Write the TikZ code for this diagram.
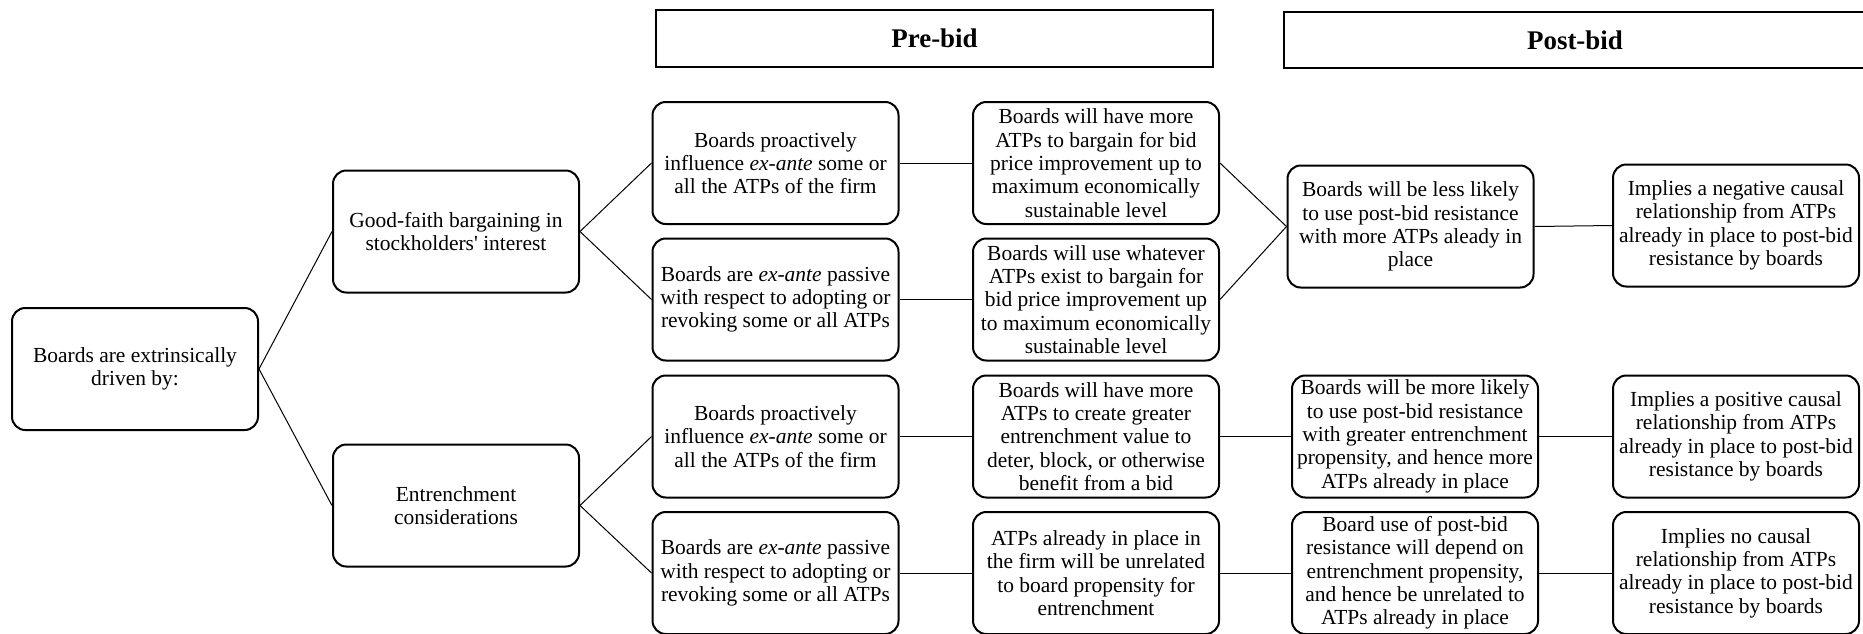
\documentclass[tikz,border=0pt]{standalone}
\usepackage{fontspec}
\setmainfont{Liberation Serif}
\usetikzlibrary{positioning}

\tikzset{
  boardbox/.style={draw, line width=1.5pt, rounded corners=10pt, align=center, inner sep=1pt,
    minimum width=184.5pt, minimum height=91.5pt, font=\fontsize{16.1}{17.5}\selectfont},
  phasebox/.style={draw, line width=1.3pt, align=center, inner sep=1pt,
    minimum height=42.5pt, font=\fontsize{20.2}{22}\selectfont\bfseries},
  link/.style={line width=0.75pt}
}

\begin{document}
\begin{tikzpicture}[x=0.75pt,y=0.75pt,yscale=-1,xscale=1]
\useasboundingbox (0,0) rectangle (1863,633);

% Text Node
\node (pre) at (934.5,38.5) [phasebox, minimum width=417.75pt] {Pre-bid};
% Text Node
\node (post) at (1575,40) [phasebox, minimum width=436.5pt] {Post-bid};

% Text Node
\node (root) at (135,369) [boardbox] {Boards are extrinsically\\driven by:};
% Text Node
\node (faith) at (456,231.5) [boardbox] {Good-faith bargaining in\\stockholders\textquotesingle{} interest};
% Text Node
\node (entr) at (456,505.5) [boardbox] {Entrenchment\\considerations};

% Text Node
\node (faithpro) at (775.5,163) [boardbox] {Boards proactively\\influence \textit{ex-ante} some or\\all the ATPs of the firm};
% Text Node
\node (faithpas) at (775.5,299.5) [boardbox] {Boards are \textit{ex-ante} passive\\with respect to adopting or\\revoking some or all ATPs};
% Text Node
\node (entrpro) at (775.5,436.5) [boardbox] {Boards proactively\\influence \textit{ex-ante} some or\\all the ATPs of the firm};
% Text Node
\node (entrpas) at (775.5,573) [boardbox] {Boards are \textit{ex-ante} passive\\with respect to adopting or\\revoking some or all ATPs};

% Text Node
\node (bargmore) at (1096,163) [boardbox] {Boards will have more\\ATPs to bargain for bid\\price improvement up to\\maximum economically\\sustainable level};
% Text Node
\node (barguse) at (1096,299.5) [boardbox] {Boards will use whatever\\ATPs exist to bargain for\\bid price improvement up\\to maximum economically\\sustainable level};
% Text Node
\node (entrmore) at (1096,436.5) [boardbox] {Boards will have more\\ATPs to create greater\\entrenchment value to\\deter, block, or otherwise\\benefit from a bid};
% Text Node
\node (entrnone) at (1096,573) [boardbox] {ATPs already in place in\\the firm will be unrelated\\to board propensity for\\entrenchment};

% Text Node
\node (resless) at (1410.5,226.5) [boardbox] {Boards will be less likely\\to use post-bid resistance\\with more ATPs aleady in\\place};
% Text Node
\node (resmore) at (1415,436.5) [boardbox] {Boards will be more likely\\to use post-bid resistance\\with greater entrenchment\\propensity, and hence more\\ATPs already in place};
% Text Node
\node (resdep) at (1415,573) [boardbox] {Board use of post-bid\\resistance will depend on\\entrenchment propensity,\\and hence be unrelated to\\ATPs already in place};

% Text Node
\node (negcause) at (1736,225.5) [boardbox] {Implies a negative causal\\relationship from ATPs\\already in place to post-bid\\resistance by boards};
% Text Node
\node (poscause) at (1736,436.5) [boardbox] {Implies a positive causal\\relationship from ATPs\\already in place to post-bid\\resistance by boards};
% Text Node
\node (nocause) at (1736,573) [boardbox] {Implies no causal\\relationship from ATPs\\already in place to post-bid\\resistance by boards};

% Connection
\draw [link] (root.east) -- (faith.west);
\draw [link] (root.east) -- (entr.west);
% Connection
\draw [link] (faith.east) -- (faithpro.west);
\draw [link] (faith.east) -- (faithpas.west);
\draw [link] (entr.east) -- (entrpro.west);
\draw [link] (entr.east) -- (entrpas.west);
% Connection
\draw [link] (faithpro) -- (bargmore);
\draw [link] (faithpas) -- (barguse);
\draw [link] (entrpro) -- (entrmore);
\draw [link] (entrpas) -- (entrnone);
% Connection
\draw [link] (bargmore.east) -- (resless.west);
\draw [link] (barguse.east) -- (resless.west);
\draw [link] (entrmore) -- (resmore);
\draw [link] (entrnone) -- (resdep);
% Connection
\draw [link] (resless.east) -- (negcause.west);
\draw [link] (resmore) -- (poscause);
\draw [link] (resdep) -- (nocause);

\end{tikzpicture}
\end{document}
